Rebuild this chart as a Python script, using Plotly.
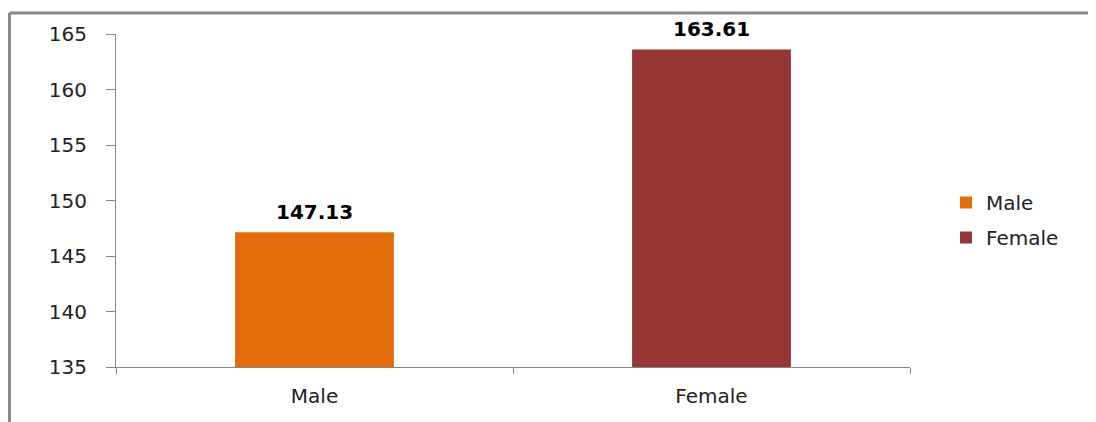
import plotly.graph_objects as go

categories = ["Male", "Female"]
values = [147.13, 163.61]
colors = ["#E36C0A", "#953735"]
y_ticks = [135, 140, 145, 150, 155, 160, 165]

# page body has an 8px margin; coordinates below are relative to the figure
W, H = 1088, 414
L, R, T, B = 108, 186, 26, 55
pw = W - L - R
ph = H - T - B
FONT = "DejaVu Sans"
FS = 20

fig = go.Figure()
for i, (c, v) in enumerate(zip(categories, values)):
    fig.add_trace(go.Bar(
        x=[c], y=[v], name=c, marker=dict(color=colors[i], line=dict(width=0)),
        width=0.4, legendgroup=c, showlegend=True,
    ))
    fig.add_annotation(
        x=c, y=v, text=f"<b>{v:.2f}</b>", showarrow=False,
        yanchor="bottom", yshift=6,
        font=dict(family=FONT, size=FS, color="#000000"),
    )

fig.update_layout(
    width=W, height=H,
    margin=dict(l=L, r=R, t=T, b=B, pad=0, autoexpand=False),
    paper_bgcolor="white", plot_bgcolor="white",
    font=dict(family=FONT, size=FS, color="#222222"),
    bargap=0.6,
    legend=dict(
        x=(938 - L) / pw, xanchor="left", y=(359 - 212) / ph, yanchor="middle",
        font=dict(family=FONT, size=FS, color="#222222"),
        tracegroupgap=6, bgcolor="rgba(0,0,0,0)",
    ),
    xaxis=dict(
        type="category", showline=True, linecolor="#868686", linewidth=1,
        ticks="outside", ticklen=6, tickcolor="#868686", tickson="boundaries",
        showgrid=False, zeroline=False, ticklabelstandoff=11, automargin=False,
        tickfont=dict(family=FONT, size=FS, color="#222222"),
    ),
    yaxis=dict(
        range=[135, 165], tickvals=y_ticks, showline=True, linecolor="#868686",
        linewidth=1, ticks="outside", ticklen=9, tickcolor="#868686",
        showgrid=False, zeroline=False, ticklabelstandoff=15, automargin=False,
        tickfont=dict(family=FONT, size=FS, color="#222222"),
    ),
    shapes=[
        dict(type="line", xref="paper", yref="paper",
             x0=(1.5 - L) / pw, x1=(W + 5 - L) / pw,
             y0=(H - B - 5) / ph, y1=(H - B - 5) / ph,
             line=dict(color="#878787", width=3)),
        dict(type="line", xref="paper", yref="paper",
             x0=(1.5 - L) / pw, x1=(1.5 - L) / pw,
             y0=(H - B - 5) / ph, y1=(H - B - H - 10) / ph,
             line=dict(color="#878787", width=3)),
    ],
)

fig.write_html("out.html")
